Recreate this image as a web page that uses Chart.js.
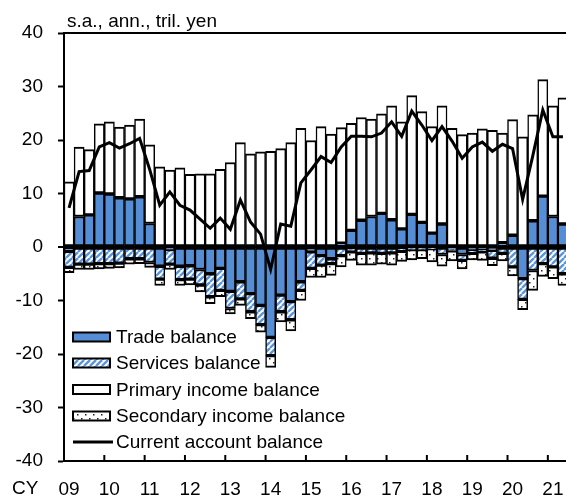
<!DOCTYPE html>
<html>
<head>
<meta charset="utf-8">
<script src="https://cdn.jsdelivr.net/npm/chart.js@4.4.1/dist/chart.umd.min.js"></script>
<style>
  html, body { margin: 0; padding: 0; background: #fff; overflow: hidden; }
  #wrap { position: relative; width: 570px; height: 497px; }
</style>
</head>
<body>
<div id="wrap"><canvas id="c"></canvas></div>
<script>
// ---------------- DATA ----------------
const quarters = [
  '2009Q1','2009Q2','2009Q3','2009Q4','2010Q1','2010Q2','2010Q3','2010Q4',
  '2011Q1','2011Q2','2011Q3','2011Q4','2012Q1','2012Q2','2012Q3','2012Q4',
  '2013Q1','2013Q2','2013Q3','2013Q4','2014Q1','2014Q2','2014Q3','2014Q4',
  '2015Q1','2015Q2','2015Q3','2015Q4','2016Q1','2016Q2','2016Q3','2016Q4',
  '2017Q1','2017Q2','2017Q3','2017Q4','2018Q1','2018Q2','2018Q3','2018Q4',
  '2019Q1','2019Q2','2019Q3','2019Q4','2020Q1','2020Q2','2020Q3','2020Q4',
  '2021Q1','2021Q2'
];
const yearLabels = ['09','10','11','12','13','14','15','16','17','18','19','20','21'];

const tradeBalance = [
  -0.8, 5.7, 6.0, 10.1, 9.9, 9.2, 9.0, 9.4, 4.4, -3.6,
  -0.5, -3.6, -3.5, -4.2, -5.0, -4.0, -8.3, -6.5, -8.7, -10.9,
  -16.9, -9.0, -10.2, -6.5, -0.9, -1.6, -2.2, 0.7, 3.1, 5.0,
  5.7, 6.3, 5.1, 3.4, 6.1, 4.6, 2.6, 4.3, -0.4, -1.4,
  -0.5, -0.3, -0.6, 0.8, 2.2, -5.9, 4.9, 9.5, 5.7, 4.3
];
const servicesBalance = [
  -3.0, -3.2, -3.2, -3.1, -3.1, -3.0, -2.2, -2.2, -2.9, -2.4,
  -2.7, -2.5, -2.5, -2.9, -4.3, -4.1, -3.2, -3.2, -3.4, -3.6,
  -3.4, -3.1, -3.4, -1.6, -3.1, -1.8, -0.9, -1.6, -0.9, -1.2,
  -1.1, -1.2, -1.1, -0.8, -0.5, -0.5, -0.3, -1.4, -0.3, -1.1,
  -0.7, -0.6, -1.5, -1.2, -3.7, -3.9, -4.4, -3.1, -3.7, -5.0
];
const primaryIncome = [
  12.2, 13.0, 12.2, 12.9, 13.5, 13.2, 13.8, 14.5, 14.7, 15.0,
  14.4, 14.8, 13.6, 13.7, 13.7, 14.5, 15.8, 19.5, 17.4, 17.8,
  17.9, 18.4, 19.5, 22.2, 19.9, 22.5, 21.1, 21.6, 20.0, 19.2,
  18.2, 18.6, 21.3, 20.0, 22.2, 20.7, 19.9, 22.1, 22.2, 21.0,
  21.3, 22.1, 21.8, 20.5, 21.6, 20.6, 19.8, 21.8, 20.7, 23.6
];
const secondaryIncome = [
  -1.0, -1.0, -1.0, -1.0, -0.9, -0.9, -1.0, -0.9, -0.9, -1.2,
  -1.0, -1.1, -1.1, -1.3, -1.3, -1.2, -1.0, -1.2, -1.3, -1.4,
  -2.2, -1.9, -2.1, -1.9, -1.7, -2.3, -2.2, -2.1, -1.6, -2.2,
  -2.3, -2.0, -2.3, -1.9, -1.9, -1.7, -2.5, -2.2, -1.9, -1.6,
  -1.2, -1.6, -1.4, -1.4, -1.7, -1.9, -3.7, -2.4, -2.2, -2.2
];
const currentAccount = [
  7.3, 14.1, 14.3, 18.7, 19.5, 18.5, 19.3, 20.3, 14.5, 7.8,
  10.3, 7.8, 6.9, 5.2, 3.5, 5.4, 3.3, 8.8, 4.7, 2.4,
  -4.2, 4.3, 3.9, 12.0, 14.4, 16.9, 15.8, 18.7, 20.7, 20.7,
  20.6, 21.3, 23.4, 20.7, 25.4, 22.8, 19.9, 22.5, 19.8, 16.6,
  18.7, 19.6, 17.9, 19.2, 18.4, 8.9, 17.0, 25.6, 20.6, 20.6
];
const seriesNames = ['Trade balance', 'Services balance', 'Primary income balance',
                     'Secondary income balance', 'Current account balance'];
const unitTitle = 's.a., ann., tril. yen';
const axisPrefix = 'CY';

// ---------------- STYLES ----------------
const FONT = '"Liberation Sans", Arial, sans-serif';
const FSIZE = 19;
const BLUE = '#558ED5';

function hatchPattern() {
  const c = document.createElement('canvas');
  c.width = 6; c.height = 6;
  const g = c.getContext('2d');
  g.fillStyle = '#ffffff';
  g.fillRect(0, 0, 6, 6);
  g.strokeStyle = '#5A95DB';
  g.lineWidth = 2.4;
  for (const k of [-6, 0, 6]) {
    g.beginPath();
    g.moveTo(k, 6);
    g.lineTo(k + 6, 0);
    g.stroke();
  }
  return g.createPattern(c, 'repeat');
}
function dotPattern() {
  const c = document.createElement('canvas');
  c.width = 8; c.height = 8;
  const g = c.getContext('2d');
  g.fillStyle = '#ffffff';
  g.fillRect(0, 0, 8, 8);
  g.fillStyle = '#222';
  g.fillRect(1, 2, 1.5, 1.5);
  g.fillRect(5, 6, 1.5, 1.5);
  return g.createPattern(c, 'repeat');
}
const HATCH = hatchPattern();
const DOTS = dotPattern();

const barBorder = { top: 2, bottom: 2, left: 1.5, right: 1.5 };
const barCommon = {
  type: 'bar', stack: 'bal', borderColor: '#000', borderWidth: barBorder,
  borderSkipped: false, barPercentage: 1, categoryPercentage: 1, order: 2
};

// ---------------- PLUGIN: frame, inward ticks, legend, labels ----------------
const decor = {
  id: 'decor',
  afterDraw(chart) {
    const ctx = chart.ctx;
    const a = chart.chartArea;
    const xs = chart.scales.x;
    ctx.save();
    // top frame line
    ctx.strokeStyle = '#000';
    ctx.lineWidth = 2;
    ctx.beginPath();
    ctx.moveTo(a.left - 1, a.top);
    ctx.lineTo(chart.width, a.top);
    ctx.stroke();
    // inward year ticks at year boundaries
    const step = xs.getPixelForValue(1) - xs.getPixelForValue(0);
    for (let i = 0; i < quarters.length; i += 4) {
      const px = xs.getPixelForValue(i) - step / 2;
      ctx.beginPath();
      ctx.moveTo(px, a.bottom);
      ctx.lineTo(px, a.bottom - 6);
      ctx.stroke();
    }
    // title
    ctx.fillStyle = '#000';
    ctx.font = FSIZE + 'px ' + FONT;
    ctx.textAlign = 'left';
    ctx.textBaseline = 'alphabetic';
    ctx.fillText(unitTitle, a.left + 3, a.top - 6);
    // CY prefix
    ctx.textBaseline = 'middle';
    ctx.fillText(axisPrefix, 12, a.bottom + 28);
    // legend
    const fills = [BLUE, HATCH, '#ffffff', DOTS];
    const lx = a.left + 9, lw = 37, lh = 9;
    const rowY = [a.bottom - 124, a.bottom - 98, a.bottom - 71.5, a.bottom - 45, a.bottom - 19];
    for (let k = 0; k < 5; k++) {
      const y = rowY[k];
      if (k < 4) {
        ctx.fillStyle = fills[k];
        ctx.fillRect(lx, y - lh / 2, lw, lh);
        ctx.lineWidth = 2;
        ctx.strokeStyle = '#000';
        ctx.strokeRect(lx, y - lh / 2, lw, lh);
      } else {
        ctx.lineWidth = 3;
        ctx.strokeStyle = '#000';
        ctx.beginPath();
        ctx.moveTo(lx, y);
        ctx.lineTo(lx + 40, y);
        ctx.stroke();
      }
      ctx.fillStyle = '#000';
      ctx.font = FSIZE + 'px ' + FONT;
      ctx.textBaseline = 'middle';
      ctx.fillText(seriesNames[k], lx + 43, y + 1);
    }
    ctx.restore();
  }
};

new Chart(document.getElementById('c'), {
  data: {
    labels: quarters,
    datasets: [
      Object.assign({ label: seriesNames[0], data: tradeBalance, backgroundColor: BLUE }, barCommon),
      Object.assign({ label: seriesNames[1], data: servicesBalance, backgroundColor: HATCH }, barCommon),
      Object.assign({ label: seriesNames[2], data: primaryIncome, backgroundColor: '#ffffff' }, barCommon),
      Object.assign({ label: seriesNames[3], data: secondaryIncome, backgroundColor: DOTS }, barCommon),
      {
        type: 'line', label: seriesNames[4], data: currentAccount, stack: 'ca',
        borderColor: '#000', borderWidth: 3, pointRadius: 0, tension: 0,
        fill: false, order: 0
      }
    ]
  },
  options: {
    responsive: true,
    maintainAspectRatio: false,
    animation: false,
    layout: { padding: { top: 33, right: 2, left: 0, bottom: 0 } },
    plugins: { legend: { display: false }, tooltip: { enabled: false } },
    scales: {
      x: {
        type: 'category',
        stacked: true,
        offset: true,
        grid: { display: false, drawTicks: false },
        border: { display: true, color: '#000', width: 2 },
        ticks: {
          autoSkip: false, maxRotation: 0, minRotation: 0, padding: 17,
          color: '#000', font: { family: FONT, size: FSIZE },
          callback: (v, i) => (i % 4 === 0 ? yearLabels[i / 4] : '')
        },
        afterFit: s => { s.height = 36; s.paddingLeft = 0; s.paddingRight = 0; }
      },
      y: {
        stacked: true,
        min: -40, max: 40,
        grid: {
          drawOnChartArea: true, drawTicks: true, tickLength: 6, tickWidth: 2,
          tickColor: '#000',
          color: c => (c.tick && c.tick.value === 0 ? '#000' : 'rgba(0,0,0,0)'),
          lineWidth: c => (c.tick && c.tick.value === 0 ? 2 : 1)
        },
        border: { display: true, color: '#000', width: 2 },
        ticks: {
          stepSize: 10, padding: 15, color: '#000',
          font: { family: FONT, size: FSIZE }
        },
        afterFit: s => { s.width = 64; s.paddingTop = 0; s.paddingBottom = 0; }
      }
    }
  },
  plugins: [decor]
});
</script>
</body>
</html>
